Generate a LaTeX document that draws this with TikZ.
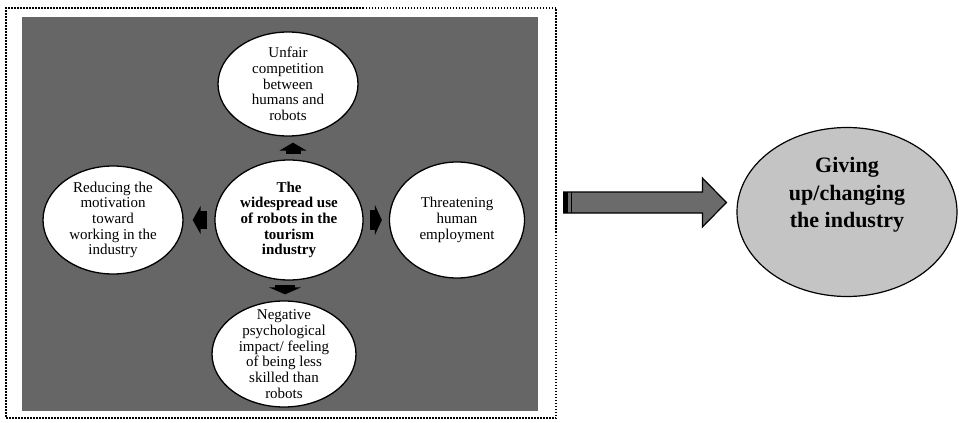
\documentclass[tikz,border=0pt]{standalone}
\usepackage{fontspec}
\setmainfont{Liberation Serif}
\usetikzlibrary{arrows.meta,shapes.geometric,calc}
\definecolor{Panel}{HTML}{666666}
\definecolor{Shade}{HTML}{C4C4C4}
\definecolor{Pipe}{HTML}{6B6B6B}
\newcommand\bubfont{\fontsize{15}{15.7}\selectfont}
\newcommand\goalfont{\fontsize{22}{27.5}\selectfont\bfseries}

\begin{document}
\begin{tikzpicture}[x=1pt,y=1pt,bubble/.style={ellipse,draw=black,line width=1.3pt,fill=white,inner sep=0pt},say/.style={align=center,inner sep=0pt,font=\bubfont},keysay/.style={say,font=\bubfont\bfseries},block/.style={draw=black,line width=#1},frame/.style={draw=black,line width=1.5pt,dash pattern=on 1.5pt off 1.5pt,inner sep=0pt},bigpipe/.style={draw=black,line width=1.2pt,fill=Pipe,line join=miter}]
 \useasboundingbox (0,0) rectangle (959,-423);
 \fill[Panel] (22,-17) rectangle (538,-411);
 \node[frame,minimum width=550pt,minimum height=410pt] (frame) at (281,-213) {};
 \node[bubble,minimum width=148pt,minimum height=120pt,label={[keysay]center:The\\widespread use\\of robots in the\\tourism\\industry}] (use) at (289,-220) {};
 \node[bubble,minimum width=140pt,minimum height=104pt,label={[say]center:Unfair\\competition\\between\\humans and\\robots}] (unfair) at (288,-84) {};
 \node[bubble,minimum width=140pt,minimum height=108pt,label={[say]center:Reducing the\\motivation\\toward\\working in the\\industry}] (motive) at (113,-220) {};
 \node[bubble,minimum width=135pt,minimum height=116pt,label={[say]center:Threatening\\human\\employment}] (jobs) at (457,-220) {};
 \node[bubble,minimum width=144pt,minimum height=106pt,label={[say]center:Negative\\psychological\\impact/ feeling\\of being less\\skilled than\\robots}] (impact) at (284,-354) {};
 \node[ellipse,draw=black,line width=1.2pt,fill=Shade,inner sep=0pt,minimum width=220pt,minimum height=169pt,label={[align=center,inner sep=0pt,font=\goalfont,yshift=17pt]center:Giving\\up/changing\\the industry}] (goal) at (847,-212) {};
 % small block arrows round the centre
 \draw[block=15pt,-{Triangle[width=27pt,length=8pt]},shorten <=5pt,shorten >=6pt] ([xshift=4pt]use.north) -- ([xshift=5pt]unfair.south);
 \draw[block=20pt,-{Triangle[width=32pt,length=7pt]},shorten <=4pt,shorten >=6pt] ([xshift=-4pt]use.south) -- ([xshift=1pt]impact.north);
 \draw[block=18pt,-{Triangle[width=28pt,length=8pt]},shorten <=7pt,shorten >=9pt] (use.west) -- (motive.east);
 \draw[block=20pt,-{Triangle[width=30pt,length=7pt]},shorten <=6pt,shorten >=7pt] (use.east) -- (jobs.west);
 % big arrow to the outcome
 \coordinate (tail) at ([xshift=7pt,yshift=10.5pt]frame.east);
 \coordinate (tip) at ([xshift=-10pt,yshift=9.5pt]goal.west);
 \draw[bigpipe] ($(tail)+(0,10.5)$) -- ($(tip)+(-24,10.5)$) -- ($(tip)+(-24,24.5)$) -- (tip) -- ($(tip)+(-24,-24.5)$) -- ($(tip)+(-24,-10.5)$) -- ($(tail)+(0,-10.5)$) -- cycle;
 \fill ($(tail)+(0,-10.5)$) rectangle ($(tail)+(4.5,10.5)$);
 \draw[line width=1.5pt] ($(tail)+(7.5,-10.5)$) -- ($(tail)+(7.5,10.5)$);
\end{tikzpicture}
\end{document}
